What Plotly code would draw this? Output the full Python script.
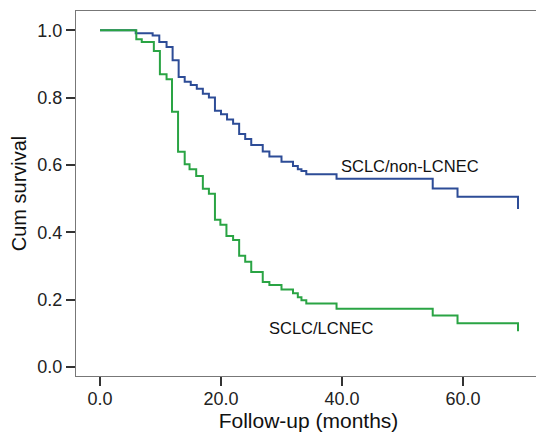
import plotly.graph_objects as go

# Kaplan-Meier step data
months_non = [0, 5.9, 8.7, 9.8, 11.0, 12.0, 13.0, 14.0, 15.0, 16.0, 17.0, 18.0, 19.0, 20.0,
              21.0, 22.0, 23.0, 24.0, 25.0, 26.9, 28.0, 30.0, 31.9, 32.7, 33.3, 34.1,
              39.1, 55.0, 59.1, 69.1]
surv_non = [1.0, 0.991, 0.984, 0.965, 0.950, 0.911, 0.861, 0.847, 0.837, 0.826, 0.811, 0.800,
            0.761, 0.750, 0.735, 0.722, 0.692, 0.677, 0.659, 0.640, 0.625, 0.609, 0.597,
            0.587, 0.582, 0.572, 0.559, 0.530, 0.505, 0.469]

months_lc = [0, 6.0, 6.9, 8.9, 9.9, 11.0, 11.9, 12.9, 14.0, 14.8, 15.9, 17.0, 18.0, 19.0,
             19.9, 20.9, 22.0, 23.0, 24.0, 25.0, 26.9, 28.0, 30.0, 31.9, 32.7, 33.3, 34.1,
             39.1, 55.0, 59.1, 69.1]
surv_lc = [1.0, 0.973, 0.965, 0.938, 0.869, 0.854, 0.758, 0.639, 0.602, 0.587, 0.567, 0.529,
           0.514, 0.437, 0.422, 0.389, 0.377, 0.330, 0.312, 0.282, 0.252, 0.243, 0.230,
           0.219, 0.207, 0.198, 0.188, 0.173, 0.153, 0.130, 0.106]

x_ticks = [0, 20, 40, 60]
y_ticks = [0.0, 0.2, 0.4, 0.6, 0.8, 1.0]

group_labels = ["SCLC/non-LCNEC", "SCLC/LCNEC"]

BLUE = "#2D4C97"
GREEN = "#2AA444"
FONT = "Liberation Sans, Arial, Helvetica, sans-serif"

fig = go.Figure()
fig.add_trace(go.Scatter(x=months_non, y=surv_non, mode="lines", line_shape="hv",
                         line=dict(color=BLUE, width=2), name=group_labels[0],
                         showlegend=False))
fig.add_trace(go.Scatter(x=months_lc, y=surv_lc, mode="lines", line_shape="hv",
                         line=dict(color=GREEN, width=2), name=group_labels[1],
                         showlegend=False))

fig.add_annotation(x=51.3, y=0.597, text=group_labels[0], showarrow=False,
                   font=dict(family=FONT, size=16.5, color="#111"))
fig.add_annotation(x=36.6, y=0.115, text=group_labels[1], showarrow=False,
                   font=dict(family=FONT, size=16.5, color="#111"))

axis_common = dict(showgrid=False, zeroline=False, showline=True, mirror=True,
                   linecolor="#777", linewidth=1, ticks="outside", ticklen=9,
                   tickcolor="#333", tickwidth=1.5, automargin=False,
                   tickfont=dict(family=FONT, size=18, color="#222"))

fig.update_layout(
    width=544, height=437,
    margin=dict(l=68, r=11, t=3, b=69),
    paper_bgcolor="white", plot_bgcolor="white",
    xaxis=dict(range=[-3.97, 72.9], tickvals=x_ticks, tickformat=".1f",
               ticklabelstandoff=-3,
               title=dict(text="Follow-up (months)", standoff=2,
                          font=dict(family=FONT, size=21, color="#111")),
               **axis_common),
    yaxis=dict(range=[-0.027, 1.057], tickvals=y_ticks, tickformat=".1f",
               title=dict(text="Cum survival", standoff=10,
                          font=dict(family=FONT, size=20, color="#111")),
               **axis_common),
)

fig.write_html("out.html")
